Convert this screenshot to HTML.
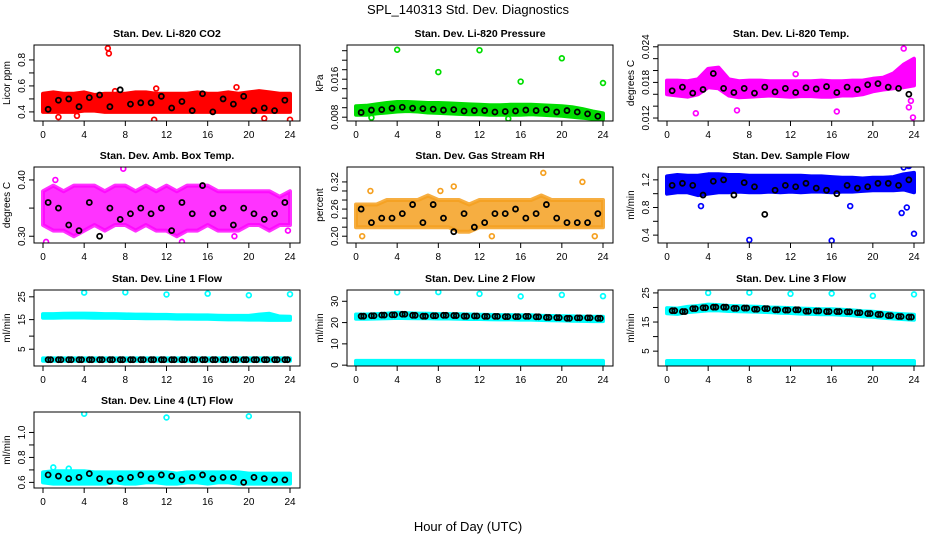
<!DOCTYPE html>
<html><head><meta charset="utf-8">
<style>
html,body{margin:0;padding:0;background:#fff;}
svg{display:block;font-family:"Liberation Sans",sans-serif;}
</style></head>
<body>
<svg id="chart" width="936" height="540" viewBox="0 0 936 540">
<text x="468" y="14" text-anchor="middle" font-size="13">SPL_140313  Std. Dev. Diagnostics</text>
<text x="468" y="531" text-anchor="middle" font-size="13">Hour of Day (UTC)</text>
</svg>
<script>
// ---- data arrays ----
const xTicks = [0,4,8,12,16,20,24];
const hours = [0,1,2,3,4,5,6,7,8,9,10,11,12,13,14,15,16,17,18,19,20,21,22,23,24];
const blackHours = [0.5,1.5,2.5,3.5,4.5,5.5,6.5,7.5,8.5,9.5,10.5,11.5,12.5,13.5,14.5,15.5,16.5,17.5,18.5,19.5,20.5,21.5,22.5,23.5];

const co2Lo = [0.40,0.40,0.40,0.40,0.41,0.41,0.40,0.40,0.40,0.40,0.40,0.40,0.40,0.40,0.40,0.40,0.40,0.40,0.40,0.40,0.40,0.40,0.40,0.40,0.40];
const co2Hi = [0.54,0.55,0.54,0.54,0.55,0.53,0.54,0.54,0.54,0.55,0.55,0.54,0.54,0.54,0.54,0.55,0.54,0.54,0.55,0.54,0.55,0.56,0.55,0.54,0.54];
const co2Black = [0.42,0.49,0.50,0.44,0.51,0.53,0.44,0.57,0.46,0.47,0.47,0.52,0.43,0.48,0.41,0.54,0.40,0.50,0.46,0.52,0.41,0.43,0.41,0.49];
const co2OutX = [6.3,6.4,1.5,10.8,11.0,18.8,21.5,24.0,3.3,7.0];
const co2OutY = [0.89,0.85,0.36,0.34,0.58,0.59,0.35,0.34,0.37,0.56];

const presLo = [0.0085,0.0085,0.0088,0.0090,0.0092,0.0093,0.0092,0.0090,0.0089,0.0088,0.0087,0.0086,0.0086,0.0085,0.0085,0.0085,0.0085,0.0086,0.0085,0.0084,0.0083,0.0081,0.0079,0.0077,0.0076];
const presHi = [0.0103,0.0104,0.0107,0.0110,0.0112,0.0112,0.0111,0.0110,0.0110,0.0109,0.0108,0.0107,0.0106,0.0105,0.0105,0.0106,0.0106,0.0106,0.0105,0.0104,0.0103,0.0101,0.0097,0.0092,0.0088];
const presBlack = [0.0090,0.0095,0.0096,0.0099,0.0101,0.0099,0.0098,0.0097,0.0095,0.0096,0.0093,0.0094,0.0094,0.0091,0.0092,0.0093,0.0095,0.0094,0.0096,0.0091,0.0094,0.0091,0.0087,0.0082];
const presOutX = [4,12,20,8,16,24,1.5,14.8];
const presOutY = [0.0222,0.0221,0.0204,0.0175,0.0155,0.0152,0.0079,0.0077];

const tempLo = [0.0160,0.0158,0.0156,0.0160,0.0172,0.0170,0.0158,0.0155,0.0156,0.0157,0.0158,0.0157,0.0156,0.0157,0.0157,0.0156,0.0156,0.0158,0.0158,0.0160,0.0165,0.0168,0.0170,0.0172,0.0175];
const tempHi = [0.0183,0.0183,0.0182,0.0185,0.0203,0.0205,0.0185,0.0182,0.0183,0.0183,0.0182,0.0182,0.0182,0.0182,0.0182,0.0183,0.0182,0.0182,0.0183,0.0183,0.0186,0.0188,0.0195,0.0210,0.0220];
const tempBlack = [0.0166,0.0172,0.0162,0.0168,0.0195,0.0170,0.0163,0.0170,0.0162,0.0172,0.0164,0.0170,0.0163,0.0171,0.0169,0.0173,0.0163,0.0172,0.0168,0.0176,0.0178,0.0172,0.0170,0.0160];
const tempOutX = [2.8,16.5,23.9,23.0,12.5,6.8,23.5,23.7];
const tempOutY = [0.0128,0.0131,0.0121,0.0237,0.0194,0.0133,0.0138,0.0149];

const ambLo = [0.32,0.31,0.31,0.30,0.31,0.32,0.31,0.32,0.32,0.31,0.32,0.31,0.31,0.30,0.31,0.31,0.32,0.31,0.31,0.31,0.32,0.32,0.31,0.32,0.32];
const ambHi = [0.38,0.39,0.38,0.39,0.39,0.39,0.38,0.39,0.39,0.38,0.39,0.38,0.39,0.38,0.39,0.39,0.39,0.38,0.38,0.38,0.38,0.38,0.38,0.37,0.38];
const ambBlack = [0.36,0.35,0.32,0.31,0.36,0.30,0.35,0.33,0.34,0.35,0.34,0.35,0.31,0.36,0.34,0.39,0.34,0.35,0.32,0.35,0.34,0.33,0.34,0.36];
const ambOutX = [0.3,7.8,19.2,13.5,1.2,8,18.6,23.8];
const ambOutY = [0.29,0.42,0.28,0.29,0.40,0.28,0.30,0.31];

const rhLo = [0.22,0.22,0.22,0.22,0.22,0.22,0.22,0.22,0.22,0.22,0.21,0.21,0.22,0.22,0.22,0.22,0.22,0.22,0.22,0.22,0.22,0.22,0.22,0.22,0.22];
const rhHi = [0.27,0.27,0.27,0.28,0.28,0.28,0.28,0.29,0.28,0.28,0.28,0.27,0.28,0.28,0.28,0.28,0.28,0.28,0.29,0.28,0.28,0.28,0.28,0.28,0.28];
const rhBlack = [0.26,0.23,0.24,0.24,0.25,0.27,0.23,0.27,0.24,0.21,0.25,0.22,0.23,0.25,0.25,0.26,0.24,0.25,0.27,0.24,0.23,0.23,0.23,0.25];
const rhOutX = [1.4,8.2,9.5,18.2,22,13.2,0.6,23.2];
const rhOutY = [0.30,0.30,0.31,0.34,0.32,0.20,0.20,0.20];

const flowLo = [1.00,1.02,1.02,0.98,1.00,1.02,1.02,1.03,1.02,1.02,1.03,1.02,1.03,1.02,1.03,1.03,1.02,1.03,1.03,1.04,1.05,1.05,1.05,1.06,1.02];
const flowHi = [1.25,1.27,1.26,1.26,1.28,1.28,1.27,1.27,1.26,1.26,1.26,1.26,1.26,1.26,1.25,1.25,1.24,1.23,1.23,1.22,1.23,1.23,1.24,1.28,1.30];
const flowBlack = [1.12,1.15,1.12,0.98,1.18,1.20,0.98,1.16,1.10,0.70,1.05,1.12,1.10,1.15,1.08,1.05,1.00,1.12,1.08,1.10,1.15,1.15,1.12,1.20];
const flowOutX = [8,16,24,23.0,23.5,3.3,17.8,22.8,23.3];
const flowOutY = [0.33,0.32,0.42,1.38,1.40,0.82,0.82,0.72,0.80];

const l1Lo = [17.0,17.0,17.1,17.1,17.1,17.0,17.0,17.0,16.9,16.9,16.8,16.8,16.8,16.7,16.7,16.6,16.6,16.5,16.4,16.4,16.3,16.3,16.2,16.2,16.2];
const l1Hi = [18.4,18.4,18.5,18.6,18.6,18.5,18.4,18.4,18.3,18.2,18.2,18.1,18.1,18.0,18.0,17.9,17.9,17.8,17.7,17.7,17.7,18.2,18.5,17.5,17.4];
const l1Black = [1.0,1.0,1.0,1.0,1.0,1.0,1.0,1.0,1.0,1.0,1.0,1.0,1.0,1.0,1.0,1.0,1.0,1.0,1.0,1.0,1.0,1.0,1.0,1.0];
const l1OutX = [4,8,12,16,20,24];
const l1OutY = [26.6,26.7,25.9,26.2,25.6,26.0];
const l1BaseLo = [0.6,0.6,0.6,0.6,0.6,0.6,0.6,0.6,0.6,0.6,0.6,0.6,0.6,0.6,0.6,0.6,0.6,0.6,0.6,0.6,0.6,0.6,0.6,0.6,0.6];
const l1BaseHi = [1.5,1.5,1.5,1.5,1.5,1.5,1.5,1.5,1.5,1.5,1.5,1.5,1.5,1.5,1.5,1.5,1.5,1.5,1.5,1.5,1.5,1.5,1.5,1.5,1.5];

const l2Lo = [21.8,21.8,21.9,22.0,22.2,22.1,22.0,22.0,21.9,21.9,21.8,21.7,21.7,21.6,21.5,21.5,21.4,21.4,21.2,21.1,21.0,20.9,20.8,20.7,20.7];
const l2Hi = [23.8,23.8,24.0,24.2,24.6,24.4,24.2,24.1,24.0,24.0,23.9,23.8,23.7,23.6,23.5,23.5,23.4,23.4,23.2,23.1,23.0,22.9,22.8,22.7,22.7];
const l2Black = [23.0,23.2,23.5,23.6,23.9,23.4,23.0,23.2,23.4,23.3,23.0,23.1,22.9,22.9,22.8,22.8,22.9,22.7,22.4,22.3,22.0,22.2,22.2,22.0];
const l2OutX = [4,8,12,16,20,24];
const l2OutY = [34.2,34.3,33.5,32.3,33.0,32.4];
const l2BaseLo = [0.3,0.3,0.3,0.3,0.3,0.3,0.3,0.3,0.3,0.3,0.3,0.3,0.3,0.3,0.3,0.3,0.3,0.3,0.3,0.3,0.3,0.3,0.3,0.3,0.3];
const l2BaseHi = [2.0,2.0,2.0,2.0,2.0,2.0,2.0,2.0,2.0,2.0,2.0,2.0,2.0,2.0,2.0,2.0,2.0,2.0,2.0,2.0,2.0,2.0,2.0,2.0,2.0];

const l3Lo = [18.0,17.8,18.4,18.7,19.0,19.0,18.8,18.7,18.6,18.5,18.4,18.2,18.1,17.9,17.8,17.7,17.7,17.5,17.3,17.0,16.8,16.5,16.2,16.0,15.8];
const l3Hi = [19.8,19.6,20.2,20.5,21.0,20.8,20.5,20.4,20.3,20.2,20.0,19.9,19.8,19.6,19.5,19.4,19.4,19.2,19.0,18.7,18.5,18.2,17.9,17.7,17.5];
const l3Black = [18.9,18.6,19.6,19.9,20.1,20.1,19.7,19.8,19.4,19.6,19.2,19.1,19.2,18.7,18.8,18.6,18.6,18.5,18.2,17.9,17.6,17.2,16.9,16.7];
const l3OutX = [4,8,12,16,20,24];
const l3OutY = [25.0,25.1,24.7,24.8,24.0,24.5];
const l3BaseLo = [0.5,0.5,0.5,0.5,0.5,0.5,0.5,0.5,0.5,0.5,0.5,0.5,0.5,0.5,0.5,0.5,0.5,0.5,0.5,0.5,0.5,0.5,0.5,0.5,0.5];
const l3BaseHi = [1.6,1.6,1.6,1.6,1.6,1.6,1.6,1.6,1.6,1.6,1.6,1.6,1.6,1.6,1.6,1.6,1.6,1.6,1.6,1.6,1.6,1.6,1.6,1.6,1.6];

const l4Lo = [0.60,0.59,0.59,0.59,0.59,0.59,0.59,0.60,0.59,0.59,0.60,0.60,0.59,0.59,0.60,0.60,0.59,0.60,0.60,0.59,0.59,0.59,0.59,0.59,0.59];
const l4Hi = [0.68,0.69,0.69,0.69,0.69,0.68,0.68,0.68,0.68,0.68,0.68,0.68,0.68,0.67,0.68,0.68,0.68,0.68,0.68,0.68,0.67,0.67,0.67,0.67,0.67];
const l4Black = [0.66,0.65,0.63,0.64,0.67,0.63,0.61,0.63,0.64,0.66,0.63,0.66,0.65,0.62,0.64,0.66,0.63,0.64,0.64,0.60,0.64,0.63,0.62,0.62];
const l4OutX = [4,12,20,1.0,2.5];
const l4OutY = [1.15,1.12,1.13,0.72,0.71];

// y tick values and labels
const co2Ticks=[0.4,0.5,0.6,0.7,0.8], co2Labels=["0.4","","0.6","","0.8"];
const presTicks=[0.008,0.010,0.012,0.014,0.016,0.018,0.020,0.022], presLabels=["0.008","","","","0.016","","",""];
const tempTicks=[0.012,0.014,0.016,0.018,0.020,0.022,0.024], tempLabels=["0.012","","","0.018","","","0.024"];
const ambTicks=[0.30,0.35,0.40], ambLabels=["0.30","","0.40"];
const rhTicks=[0.20,0.22,0.24,0.26,0.28,0.30,0.32], rhLabels=["0.20","","","0.26","","","0.32"];
const flowTicks=[0.4,0.6,0.8,1.0,1.2], flowLabels=["0.4","","0.8","","1.2"];
const l1Ticks=[5,10,16.3,25], l1Labels=["5","","15","25"];
const l2Ticks=[0,10,20,30], l2Labels=["0","10","20","30"];
const l3Ticks=[5,10,15,20,25], l3Labels=["5","","15","","25"];
const l4Ticks=[0.6,0.7,0.8,0.9,1.0], l4Labels=["0.6","","0.8","","1.0"];

const NS="http://www.w3.org/2000/svg";
const svg=document.getElementById('chart');
function mk(tag,attrs,parent){const e=document.createElementNS(NS,tag);for(const k in attrs)e.setAttribute(k,attrs[k]);(parent||svg).appendChild(e);return e;}

function panel(o){
  const g=mk('g',{});
  
  
  const L=o.left,T=o.top,W=266,H=76;
  const xs=h=>L+9+h/24*247;
  const ys=v=>T+H-(v-o.ylo)/(o.yhi-o.ylo)*H;
  const clip='c'+o.name;
  const cp=mk('clipPath',{id:clip},g);mk('rect',{x:L,y:T,width:W,height:H},cp);
  const pg=mk('g',{'clip-path':'url(#'+clip+')'},g);
  const op=o.opacity||1;
  function band(lo,hi,color){
    let d='M'+hours.map((h,i)=>xs(h).toFixed(1)+','+ys(hi[i]).toFixed(1)).join('L');
    for(let i=hours.length-1;i>=0;i--)d+='L'+xs(hours[i]).toFixed(1)+','+ys(lo[i]).toFixed(1);
    const p=mk('path',{d:d+'Z',fill:color,stroke:color,'stroke-width':4,'stroke-linejoin':'round','fill-opacity':op,'stroke-opacity':op},pg);
    
    
  }
  band(o.lo,o.hi,o.color);
  if(o.blo) band(o.blo,o.bhi,o.color);
  o.ox.forEach((x,i)=>{
    const c=mk('circle',{cx:xs(x),cy:ys(o.oy[i]),r:2.4,fill:'none',stroke:o.color,'stroke-width':1.7},pg);
    
    
  });
  o.black.forEach((v,i)=>{
    const c=mk('circle',{cx:xs(blackHours[i]),cy:ys(v),r:2.5,fill:'none',stroke:'#000','stroke-width':1.8},pg);
    
    
  });
  if(o.black2) o.black2.forEach((v,i)=>{
    const c=mk('circle',{cx:xs(blackHours[i]+0.25),cy:ys(v),r:2.5,fill:'none',stroke:'#000','stroke-width':1.8},pg);
    
    
  });
  const box=mk('rect',{x:L,y:T,width:W,height:H,fill:'none',stroke:'#000','stroke-width':1},g);
  
  
  mk('line',{x1:xs(0),x2:xs(24),y1:T+H,y2:T+H,stroke:'#000'},g);
  xTicks.forEach(t=>{
    mk('line',{x1:xs(t),x2:xs(t),y1:T+H,y2:T+H+5,stroke:'#000'},g);
    const tx=mk('text',{x:xs(t),y:T+H+17,'text-anchor':'middle','font-size':10},g);
    tx.textContent=t;
    
    
  });
  const yt=o.ticks.map(ys);
  mk('line',{x1:L,x2:L,y1:Math.min(...yt),y2:Math.max(...yt),stroke:'#000'},g);
  o.ticks.forEach((t,i)=>{
    const y=ys(t);
    mk('line',{x1:L-5,x2:L,y1:y,y2:y,stroke:'#000'},g);
    if(o.labels[i]){
      const tx=mk('text',{x:L-9,y:y,'text-anchor':'middle','font-size':10,transform:'rotate(-90 '+(L-9)+' '+y+')'},g);
      tx.textContent=o.labels[i];
      
      
    }
  });
  const yl=mk('text',{x:L-24,y:T+H/2,'text-anchor':'middle','font-size':10,transform:'rotate(-90 '+(L-24)+' '+(T+H/2)+')'},g);
  yl.textContent=o.ylab;
  
  
  const ti=mk('text',{x:L+W/2,y:T-8,'text-anchor':'middle','font-size':10.5,'font-weight':'bold'},g);
  ti.textContent=o.title;
  
  
}

const C1=34,C2=347,C3=658,R1=45,R2=167,R3=290,R4=412;
panel({name:'panel-co2',left:C1,top:R1,ylo:0.33,yhi:0.915,ticks:co2Ticks,labels:co2Labels,ylab:'Licor ppm',title:'Stan. Dev. Li-820 CO2',color:'#ff0000',lo:co2Lo,hi:co2Hi,black:co2Black,ox:co2OutX,oy:co2OutY});
panel({name:'panel-pressure',left:C2,top:R1,ylo:0.0072,yhi:0.0232,ticks:presTicks,labels:presLabels,ylab:'kPa',title:'Stan. Dev. Li-820 Pressure',color:'#00dd00',lo:presLo,hi:presHi,black:presBlack,ox:presOutX,oy:presOutY});
panel({name:'panel-li820-temp',left:C3,top:R1,ylo:0.0115,yhi:0.0243,ticks:tempTicks,labels:tempLabels,ylab:'degrees C',title:'Stan. Dev. Li-820 Temp.',color:'#ff00ff',lo:tempLo,hi:tempHi,black:tempBlack,ox:tempOutX,oy:tempOutY});
panel({name:'panel-amb-box-temp',left:C1,top:R2,ylo:0.288,yhi:0.423,ticks:ambTicks,labels:ambLabels,ylab:'degrees C',title:'Stan. Dev. Amb. Box Temp.',color:'#ff00ff',opacity:0.8,lo:ambLo,hi:ambHi,black:ambBlack,ox:ambOutX,oy:ambOutY});
panel({name:'panel-gas-stream-rh',left:C2,top:R2,ylo:0.185,yhi:0.353,ticks:rhTicks,labels:rhLabels,ylab:'percent',title:'Stan. Dev. Gas Stream RH',color:'#f5a020',opacity:0.85,lo:rhLo,hi:rhHi,black:rhBlack,ox:rhOutX,oy:rhOutY});
panel({name:'panel-sample-flow',left:C3,top:R2,ylo:0.286,yhi:1.386,ticks:flowTicks,labels:flowLabels,ylab:'ml/min',title:'Stan. Dev. Sample Flow',color:'#0000ff',lo:flowLo,hi:flowHi,black:flowBlack,ox:flowOutX,oy:flowOutY});
panel({name:'panel-line1-flow',left:C1,top:R3,ylo:-1.4,yhi:27.6,ticks:l1Ticks,labels:l1Labels,ylab:'ml/min',title:'Stan. Dev. Line 1 Flow',color:'#00ffff',lo:l1Lo,hi:l1Hi,blo:l1BaseLo,bhi:l1BaseHi,black:l1Black,black2:l1Black,ox:l1OutX,oy:l1OutY});
panel({name:'panel-line2-flow',left:C2,top:R3,ylo:-0.4,yhi:35.3,ticks:l2Ticks,labels:l2Labels,ylab:'ml/min',title:'Stan. Dev. Line 2 Flow',color:'#00ffff',lo:l2Lo,hi:l2Hi,blo:l2BaseLo,bhi:l2BaseHi,black:l2Black,black2:l2Black,ox:l2OutX,oy:l2OutY});
panel({name:'panel-line3-flow',left:C3,top:R3,ylo:-0.1,yhi:26.0,ticks:l3Ticks,labels:l3Labels,ylab:'ml/min',title:'Stan. Dev. Line 3 Flow',color:'#00ffff',lo:l3Lo,hi:l3Hi,blo:l3BaseLo,bhi:l3BaseHi,black:l3Black,black2:l3Black,ox:l3OutX,oy:l3OutY});
panel({name:'panel-line4-flow',left:C1,top:R4,ylo:0.555,yhi:1.164,ticks:l4Ticks,labels:l4Labels,ylab:'ml/min',title:'Stan. Dev. Line 4 (LT) Flow',color:'#00ffff',lo:l4Lo,hi:l4Hi,black:l4Black,ox:l4OutX,oy:l4OutY});
</script>
</body></html>
